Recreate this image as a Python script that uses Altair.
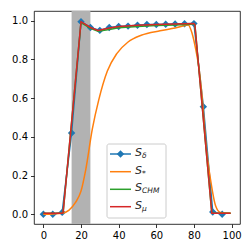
import altair as alt
import pandas as pd

# S_delta (markers)
sd_x = [0, 5, 10, 15, 20, 25, 30, 35, 40, 45, 50, 55, 60, 65, 70, 75, 80, 85, 90, 95]
sd_y = [0.0, 0.0, 0.01, 0.42, 0.995, 0.965, 0.95, 0.965, 0.97, 0.972, 0.976, 0.98, 0.98, 0.982, 0.983, 0.984, 0.985, 0.556, 0.012, 0.0]

# S_* (smooth)
ss_x = [0, 5, 10, 13.5, 17, 20, 22.5, 26, 29.4, 34, 39, 45, 52, 62, 70, 77, 79, 81, 82.6, 84, 86.7, 88.8, 91.5, 94, 99.5]
ss_y = [0.0, 0.002, 0.005, 0.02, 0.06, 0.12, 0.23, 0.44, 0.59, 0.74, 0.83, 0.89, 0.925, 0.948, 0.962, 0.978, 0.935, 0.85, 0.76, 0.64, 0.33, 0.18, 0.044, 0.01, 0.005]

# S_CHM
sc_x = [0, 10, 10.5, 20, 25, 29, 35, 40, 50, 60, 70, 80, 80.5, 89.5, 99.5]
sc_y = [0.005, 0.005, 0.01, 0.99, 0.96, 0.945, 0.955, 0.963, 0.97, 0.975, 0.978, 0.982, 0.98, 0.005, 0.005]

# S_mu
sm_x = [0, 10, 10.5, 20, 25, 29, 35, 40, 50, 60, 70, 80, 80.5, 89.5, 99.5]
sm_y = [0.005, 0.005, 0.01, 0.995, 0.965, 0.95, 0.962, 0.97, 0.976, 0.98, 0.983, 0.985, 0.98, 0.005, 0.005]

band_start = [15]
band_end = [25]

x_ticks = [0, 20, 40, 60, 80, 100]
y_ticks = [0.0, 0.2, 0.4, 0.6, 0.8, 1.0]

legend_subs = ["δ", "*", "CHM", "μ"]
colors = ["#1f77b4", "#ff7f0e", "#2ca02c", "#d62728"]

XD = [-4.975, 104.475]
YD = [-0.05, 1.05]

xs = alt.Scale(domain=XD, nice=False, zero=False)
ys = alt.Scale(domain=YD, nice=False, zero=False)
xax = alt.Axis(values=x_ticks, title=None, grid=False, domain=False, format="d")
yax = alt.Axis(values=y_ticks, title=None, grid=False, domain=False, format=".1f")

band = alt.Chart(pd.DataFrame({"a": band_start, "b": band_end})).mark_rect(
    color="#b2b2b2", opacity=1
).encode(
    x=alt.X("a:Q", scale=xs, axis=xax),
    x2="b:Q",
    y=alt.value(0),
    y2=alt.value(213),
)

def line(xv, yv, color, interp="linear"):
    df = pd.DataFrame({"x": xv, "y": yv})
    return alt.Chart(df).mark_line(color=color, strokeWidth=1.5, interpolate=interp).encode(
        x=alt.X("x:Q", scale=xs, axis=xax),
        y=alt.Y("y:Q", scale=ys, axis=yax),
    )

sd_df = pd.DataFrame({"x": sd_x, "y": sd_y})
sd_line = line(sd_x, sd_y, colors[0])
sd_pts = alt.Chart(sd_df).mark_point(
    shape="diamond", filled=True, color=colors[0], size=55, opacity=1
).encode(
    x=alt.X("x:Q", scale=xs, axis=xax),
    y=alt.Y("y:Q", scale=ys, axis=yax),
)
ss_line = line(ss_x, ss_y, colors[1], "monotone")
sc_line = line(sc_x, sc_y, colors[2])
sm_line = line(sm_x, sm_y, colors[3])

# legend
one = pd.DataFrame({"k": [0]})
leg_layers = []
leg_layers.append(
    alt.Chart(one).mark_rect(fill="white", fillOpacity=0.8, stroke="#cccccc", strokeWidth=1, cornerRadius=2).encode(
        x=alt.value(73), x2=alt.value(132), y=alt.value(133), y2=alt.value(207)
    )
)
rows_y = [143, 160.7, 178.3, 195.7]
for i, (sub, c) in enumerate(zip(legend_subs, colors)):
    yy = rows_y[i]
    leg_layers.append(
        alt.Chart(one).mark_rule(color=c, strokeWidth=1.5).encode(
            x=alt.value(76), x2=alt.value(97), y=alt.value(yy)
        )
    )
    if i == 0:
        leg_layers.append(
            alt.Chart(one).mark_point(shape="diamond", filled=True, color=c, size=55, opacity=1).encode(
                x=alt.value(86.5), y=alt.value(yy)
            )
        )
    leg_layers.append(
        alt.Chart(one).mark_text(text="S", font="DejaVu Sans", fontStyle="italic", fontSize=11,
                                 align="left", baseline="middle", color="#262626").encode(
            x=alt.value(101), y=alt.value(yy - 1)
        )
    )
    leg_layers.append(
        alt.Chart(one).mark_text(text=sub, font="DejaVu Sans", fontStyle="italic", fontSize=7.5,
                                 align="left", baseline="middle", color="#262626").encode(
            x=alt.value(108), y=alt.value(yy + 2)
        )
    )

chart = alt.layer(band, sd_line, sd_pts, ss_line, sc_line, sm_line, *leg_layers).properties(
    width=206, height=213,
    autosize=alt.AutoSizeParams(type="none"),
    padding={"left": 26, "top": 3, "right": 4, "bottom": 20},
).configure_view(
    stroke="black", strokeWidth=0.8
).configure_axis(
    labelFont="DejaVu Sans", labelFontSize=10, labelColor="black",
    tickColor="black", tickSize=3.5, tickWidth=0.8, labelPadding=3
)

chart.save("out.html", embed_options={"renderer": "svg", "actions": False})
